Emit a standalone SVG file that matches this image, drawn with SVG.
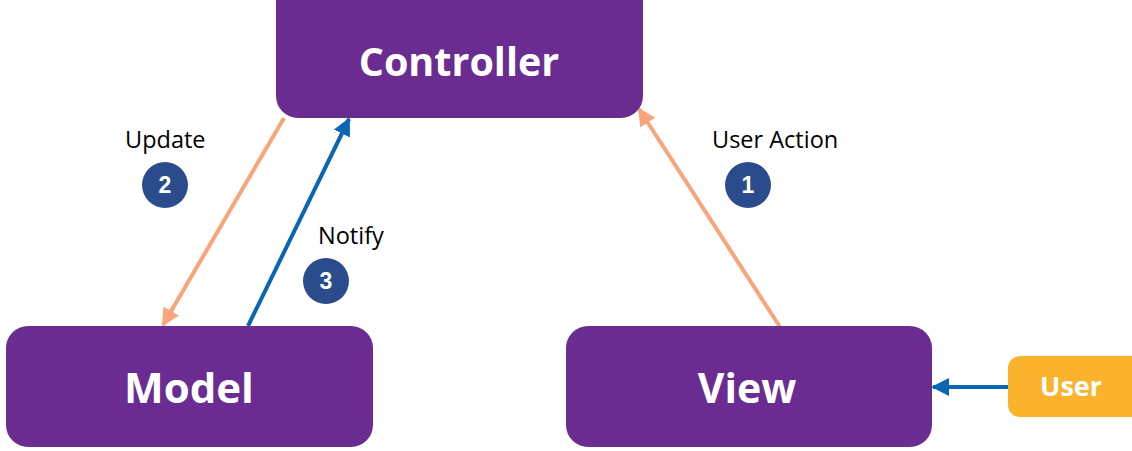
<svg xmlns="http://www.w3.org/2000/svg" width="1132" height="451" viewBox="0 0 1132 451">
<defs>
<style>
.box{fill:#6A2C91;}
.ntext{font-family:"Open Sans","Liberation Sans",sans-serif;font-weight:bold;fill:#fff;text-anchor:middle;}
.lbl{font-family:"Open Sans","Liberation Sans",sans-serif;font-size:23.5px;fill:#000;}
.badge{fill:#2B4C8C;}
.btext{font-family:"Liberation Sans",sans-serif;font-weight:bold;font-size:23px;fill:#fff;text-anchor:middle;}
.orange{stroke:#F8A57A;stroke-width:4;fill:none;}
.blue{stroke:#0A66B4;stroke-width:4;fill:none;}
</style>
<marker id="ao" viewBox="0 0 10 10" refX="9" refY="5" markerWidth="4.5" markerHeight="4.5" orient="auto" markerUnits="strokeWidth"><path d="M0,0 L10,5 L0,10 z" fill="#F8A57A"/></marker>
<marker id="ab" viewBox="0 0 10 10" refX="9" refY="5" markerWidth="4.5" markerHeight="4.5" orient="auto" markerUnits="strokeWidth"><path d="M0,0 L10,5 L0,10 z" fill="#0A66B4"/></marker>
</defs>
<rect width="1132" height="451" fill="#fff"/>
<g id="connectors">
<line class="orange" x1="284" y1="118" x2="163" y2="325" marker-end="url(#ao)"/>
<line class="blue" x1="248" y1="326" x2="349" y2="119" marker-end="url(#ab)"/>
<line class="orange" x1="780" y1="327" x2="639" y2="109" marker-end="url(#ao)"/>
<line class="blue" x1="1008" y1="387" x2="933" y2="387" marker-end="url(#ab)"/>
</g>
<g id="controller"><rect class="box" x="276" y="-20" width="367" height="138" rx="22"/><text class="ntext" x="459" y="76" font-size="39.5">Controller</text></g>
<g id="model"><rect class="box" x="6" y="326" width="367" height="121" rx="22"/><text class="ntext" x="189" y="403" font-size="42">Model</text></g>
<g id="view"><rect class="box" x="566" y="326" width="366" height="121" rx="22"/><text class="ntext" x="747" y="403" font-size="41">View</text></g>
<g id="user"><rect x="1008" y="356" width="140" height="61" rx="12" fill="#FBB32E"/><text class="ntext" x="1071" y="396" font-size="27">User</text></g>
<g id="label-update"><text class="lbl" x="125" y="148">Update</text><circle class="badge" cx="165" cy="185" r="23"/><text class="btext" x="165" y="193">2</text></g>
<g id="label-notify"><text class="lbl" x="318" y="244">Notify</text><circle class="badge" cx="326" cy="281" r="23"/><text class="btext" x="326" y="289">3</text></g>
<g id="label-action"><text class="lbl" x="712" y="148">User Action</text><circle class="badge" cx="748" cy="185" r="23"/><text class="btext" x="748" y="193">1</text></g>
</svg>
